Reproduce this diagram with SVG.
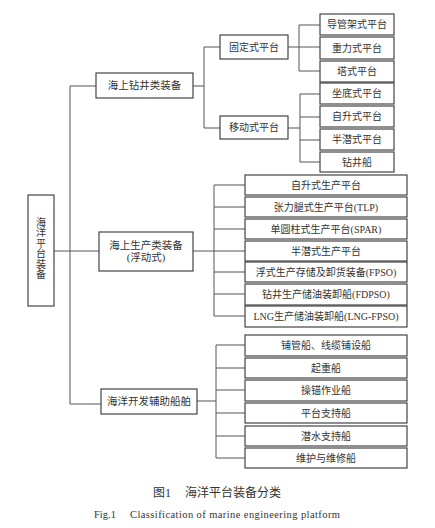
<svg xmlns="http://www.w3.org/2000/svg" width="435" height="528" viewBox="0 0 435 528">
<style>
.b{fill:#fff;stroke:#444;stroke-width:1.2}
.t{font-family:"Liberation Serif","Noto Sans CJK SC",serif;font-size:10px;fill:#333;text-anchor:middle;dominant-baseline:central}
.r{font-size:10.5px}
.v{font-size:10px}
.l{fill:none;stroke:#555;stroke-width:1}
.c{font-family:"Liberation Serif","Noto Sans CJK SC",serif;fill:#333}
</style>
<rect width="435" height="528" fill="#fff"/>
<g id="connectors">
<path class="l" d="M54 251H99M70 86V404M70 86H96M70 404H101"/>
<path class="l" d="M193 86H204M204 47V128M204 47H220M204 128H220"/>
<path class="l" d="M288 47H320M299 25V71M299 25H320M299 71H320"/>
<path class="l" d="M288 128H300M300 94V162M300 94H320M300 117H320M300 140H320M300 162H320"/>
<path class="l" d="M193 251H214M214 185V316M214 185H245M214 207H245M214 229H245M214 251H245M214 272H245M214 294H245M214 316H245"/>
<path class="l" d="M197 401H216M216 345V458M216 345H245M216 368H245M216 390H245M216 413H245M216 436H245M216 458H245"/>
</g>
<g id="root"><rect class="b" x="28" y="195" width="26" height="111"/>
<text class="t v" x="41" y="222">海</text><text class="t v" x="41" y="232.5">洋</text><text class="t v" x="41" y="243">平</text><text class="t v" x="41" y="253.5">台</text><text class="t v" x="41" y="264">装</text><text class="t v" x="41" y="274.5">备</text></g>
<g id="drilling"><rect class="b" x="96" y="73" width="97" height="25"/><text class="t r" x="144.5" y="85.5">海上钻井类装备</text></g>
<g id="production"><rect class="b" x="99" y="232" width="94" height="39"/><text class="t r" x="146" y="245.5">海上生产类装备</text><text class="t r" x="146" y="257">(浮动式)</text></g>
<g id="auxiliary"><rect class="b" x="101" y="389" width="96" height="25"/><text class="t r" x="149" y="401.5">海洋开发辅助船舶</text></g>
<g id="fixed"><rect class="b" x="220" y="35" width="68" height="24"/><text class="t" x="254" y="47">固定式平台</text></g>
<g id="mobile"><rect class="b" x="220" y="116" width="68" height="23"/><text class="t" x="254" y="127.5">移动式平台</text></g>
<g id="f1"><rect class="b" x="320" y="14" width="74" height="21"/><text class="t" x="357" y="24.5">导管架式平台</text></g>
<g id="f2"><rect class="b" x="320" y="37" width="74" height="22"/><text class="t" x="357" y="48">重力式平台</text></g>
<g id="f3"><rect class="b" x="320" y="61" width="74" height="21"/><text class="t" x="357" y="71.5">塔式平台</text></g>
<g id="m1"><rect class="b" x="320" y="83" width="74" height="21"/><text class="t" x="357" y="93.5">坐底式平台</text></g>
<g id="m2"><rect class="b" x="320" y="106" width="74" height="21"/><text class="t" x="357" y="116.5">自升式平台</text></g>
<g id="m3"><rect class="b" x="320" y="129" width="74" height="21"/><text class="t" x="357" y="139.5">半潜式平台</text></g>
<g id="m4"><rect class="b" x="320" y="152" width="74" height="20"/><text class="t" x="357" y="162">钻井船</text></g>
<g id="p1"><rect class="b" x="245" y="175" width="162" height="20"/><text class="t" x="326" y="185">自升式生产平台</text></g>
<g id="p2"><rect class="b" x="245" y="197" width="162" height="20"/><text class="t" x="326" y="207">张力腿式生产平台(TLP)</text></g>
<g id="p3"><rect class="b" x="245" y="219" width="162" height="20"/><text class="t" x="326" y="229">单圆柱式生产平台(SPAR)</text></g>
<g id="p4"><rect class="b" x="245" y="241" width="162" height="20"/><text class="t" x="326" y="251">半潜式生产平台</text></g>
<g id="p5"><rect class="b" x="245" y="262" width="162" height="20"/><text class="t" x="326" y="272">浮式生产存储及卸货装备(FPSO)</text></g>
<g id="p6"><rect class="b" x="245" y="284" width="162" height="21"/><text class="t" x="326" y="294.5">钻井生产储油装卸船(FDPSO)</text></g>
<g id="p7"><rect class="b" x="245" y="306" width="162" height="21"/><text class="t" x="326" y="316.5">LNG生产储油装卸船(LNG-FPSO)</text></g>
<g id="a1"><rect class="b" x="245" y="335" width="162" height="21"/><text class="t" x="326" y="345.5">铺管船、线缆铺设船</text></g>
<g id="a2"><rect class="b" x="245" y="358" width="162" height="20"/><text class="t" x="326" y="368">起重船</text></g>
<g id="a3"><rect class="b" x="245" y="380" width="162" height="21"/><text class="t" x="326" y="390.5">操锚作业船</text></g>
<g id="a4"><rect class="b" x="245" y="403" width="162" height="20"/><text class="t" x="326" y="413">平台支持船</text></g>
<g id="a5"><rect class="b" x="245" y="426" width="162" height="20"/><text class="t" x="326" y="436">潜水支持船</text></g>
<g id="a6"><rect class="b" x="245" y="448" width="162" height="20"/><text class="t" x="326" y="458">维护与维修船</text></g>
<text class="c" x="153" y="497" style="font-size:12px">图1</text>
<text class="c" x="185" y="497" style="font-size:12px">海洋平台装备分类</text>
<text class="c" x="94" y="518" style="font-size:10.5px">Fig.1</text>
<text class="c" x="130" y="518" style="font-size:10.5px" textLength="210" lengthAdjust="spacing">Classification of marine engineering platform</text>
</svg>
